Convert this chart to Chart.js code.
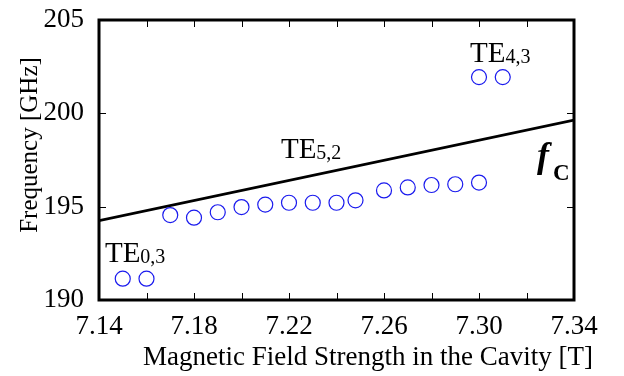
<!DOCTYPE html>
<html>
<head>
<meta charset="utf-8">
<script src="https://cdn.jsdelivr.net/npm/chart.js@4.4.1/dist/chart.umd.min.js"></script>
<style>
  html, body { margin: 0; padding: 0; background: #fff; }
  #wrap { width: 624px; height: 376px; }
</style>
</head>
<body>
<div id="wrap"><canvas id="freqChart" width="624" height="376"></canvas></div>
<script>
// gemessene Moden (B-Feld in T, Frequenz in GHz)
const fieldT = [7.15, 7.16, 7.17, 7.18, 7.19, 7.20, 7.21, 7.22, 7.23, 7.24, 7.248, 7.26, 7.27, 7.28, 7.29, 7.30, 7.30, 7.31];
const freqGHz = [191.14, 191.14, 194.55, 194.41, 194.70, 194.98, 195.11, 195.21, 195.21, 195.21, 195.34, 195.87, 196.03, 196.16, 196.20, 196.29, 201.94, 201.94];

// Zyklotronfrequenz f_C
const cutoffT = [7.14, 7.34];
const cutoffGHz = [194.25, 199.64];

// Achsen
const xTickValues = [7.14, 7.16, 7.18, 7.20, 7.22, 7.24, 7.26, 7.28, 7.30, 7.32, 7.34];
const xTickLabels = ['7.14', '', '7.18', '', '7.22', '', '7.26', '', '7.30', '', '7.34'];
const yTickValues = [190, 195, 200, 205];
const xTitle = 'Magnetic Field Strength in the Cavity [T]';
const yTitle = 'Frequency [GHz]';

// Beschriftungen der Moden
const modeNames = ['TE', 'TE', 'TE'];
const modeSubs = ['0,3', '5,2', '4,3'];
const modeX = [7.1425, 7.2166, 7.2962];
const modeY = [192.05, 197.61, 202.77];
const fcX = 7.3244;
const fcY = 197.13;

const serif = '"Liberation Serif", "Times New Roman", serif';

const framePlugin = {
    id: 'frame',
    afterDatasetsDraw(chart) {
        const ctx = chart.ctx;
        const a = chart.chartArea;
        const xs = chart.scales.x;
        const ys = chart.scales.y;
        ctx.save();
        ctx.strokeStyle = '#000';
        // innere Tickmarks
        ctx.lineWidth = 1;
        ctx.beginPath();
        xTickValues.slice(1, -1).forEach(v => {
            const px = Math.round(xs.getPixelForValue(v)) + 0.5;
            ctx.moveTo(px, a.bottom); ctx.lineTo(px, a.bottom - 7);
            ctx.moveTo(px, a.top); ctx.lineTo(px, a.top + 7);
        });
        yTickValues.slice(1, -1).forEach(v => {
            const py = Math.round(ys.getPixelForValue(v)) + 0.5;
            ctx.moveTo(a.left, py); ctx.lineTo(a.left + 7, py);
            ctx.moveTo(a.right, py); ctx.lineTo(a.right - 7, py);
        });
        ctx.stroke();
        // Rahmen
        ctx.lineWidth = 3;
        ctx.strokeRect(a.left, a.top, a.right - a.left, a.bottom - a.top);

        // Modenbeschriftung
        ctx.fillStyle = '#000';
        ctx.textBaseline = 'alphabetic';
        ctx.textAlign = 'left';
        modeNames.forEach((name, i) => {
            const px = xs.getPixelForValue(modeX[i]);
            const py = ys.getPixelForValue(modeY[i]);
            ctx.font = '29px ' + serif;
            ctx.fillText(name, px, py);
            const w = ctx.measureText(name).width;
            ctx.font = '20px ' + serif;
            ctx.fillText(modeSubs[i], px + w, py + 1);
        });
        // f_C
        const fx = xs.getPixelForValue(fcX);
        const fy = ys.getPixelForValue(fcY);
        ctx.font = 'italic bold 36px ' + serif;
        ctx.fillText('f', fx, fy);
        ctx.font = 'bold 23px ' + serif;
        ctx.fillText('C', fx + 16, fy + 13);

        // Achsentitel
        ctx.font = '27px ' + serif;
        ctx.textAlign = 'center';
        ctx.fillText(xTitle, 368, 365);
        ctx.save();
        ctx.translate(37, 145);
        ctx.rotate(-Math.PI / 2);
        ctx.font = '25px ' + serif;
        ctx.fillText(yTitle, 0, 0);
        ctx.restore();
        ctx.restore();
    }
};

const ctx = document.getElementById('freqChart').getContext('2d');
new Chart(ctx, {
    type: 'scatter',
    data: {
        datasets: [{
            label: 'Moden',
            data: fieldT.map((b, i) => ({ x: b, y: freqGHz[i] })),
            pointStyle: 'circle',
            pointRadius: 7.5,
            pointBorderWidth: 1.2,
            pointBorderColor: '#1a1aee',
            pointBackgroundColor: 'rgba(0,0,0,0)',
            showLine: false
        }, {
            label: 'fc',
            data: cutoffT.map((b, i) => ({ x: b, y: cutoffGHz[i] })),
            showLine: true,
            borderColor: '#000',
            borderWidth: 2.6,
            pointRadius: 0,
            clip: 0
        }]
    },
    options: {
        responsive: false,
        devicePixelRatio: 1,
        animation: false,
        layout: { padding: { top: 20, right: 50, left: 0, bottom: 0 } },
        plugins: {
            legend: { display: false },
            tooltip: { enabled: false }
        },
        scales: {
            x: {
                type: 'linear',
                min: 7.14,
                max: 7.34,
                afterBuildTicks: function(scale) {
                    scale.ticks = xTickValues.map(v => ({ value: v }));
                },
                afterFit: function(scale) {
                    scale.height = 76;
                    scale.paddingLeft = 0;
                    scale.paddingRight = 0;
                },
                grid: { display: false, drawTicks: false },
                border: { display: false },
                ticks: {
                    autoSkip: false,
                    maxRotation: 0,
                    padding: 11,
                    color: '#000',
                    font: { family: serif, size: 27 },
                    callback: function(value, index) { return xTickLabels[index]; }
                }
            },
            y: {
                min: 190,
                max: 205,
                afterBuildTicks: function(scale) {
                    scale.ticks = yTickValues.map(v => ({ value: v }));
                },
                afterFit: function(scale) {
                    scale.width = 99;
                    scale.paddingTop = 0;
                    scale.paddingBottom = 0;
                },
                grid: { display: false, drawTicks: false },
                border: { display: false },
                ticks: {
                    padding: 15,
                    color: '#000',
                    font: { family: serif, size: 27 },
                    callback: function(value) { return String(value); }
                }
            }
        }
    },
    plugins: [framePlugin]
});
</script>
</body>
</html>
